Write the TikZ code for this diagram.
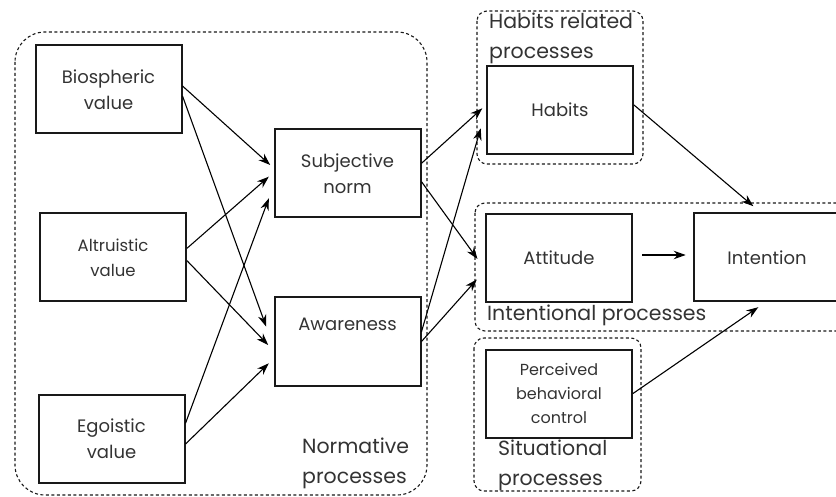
\documentclass[tikz,border=0pt]{standalone}
\usepackage{fontspec}
\setmainfont{Poppins}
\usetikzlibrary{arrows.meta}

\begin{document}
\begin{tikzpicture}[x=1pt,y=-1pt,>={Stealth[length=12pt,width=8.5pt]},
    box/.style={draw=black!90,line width=2pt,minimum width=146pt,minimum height=88pt,
        inner sep=0pt,align=center,text=black!80,font=\fontsize{18}{26}\selectfont},
    group/.style={draw=black!90,line width=1.1pt,dash pattern=on 3pt off 2.5pt,rounded corners=10pt},
    glabel/.style={anchor=west,inner sep=0pt,align=left,text=black!80,font=\fontsize{20.5}{30}\selectfont},
    arr/.style={->,line width=1.1pt}]
    \useasboundingbox (0,0) rectangle (836,497);

    % process groups
    \draw[group,rounded corners=30pt] (15,32) rectangle (427,495);
    \draw[group] (477,11) rectangle (643,164);
    \draw[group] (475,203) rectangle (850,331);
    \draw[group] (474,338) rectangle (641,491);

    \node[glabel] (normlab) at (302,463) {Normative\\processes};
    \node[glabel] (hablab) at (489,38) {Habits related\\processes};
    \node[glabel] (intlab) at (487,315) {Intentional processes};
    \node[glabel] (sitlab) at (498,465) {Situational\\processes};

    % values
    \node[box] (bio) at (108.5,89.5) {Biospheric\\value};
    \node[box,font=\fontsize{16.5}{25}\selectfont] (alt) at (113,257.5) {Altruistic\\value};
    \node[box] (ego) at (111.5,439) {Egoistic\\value};

    % normative
    \node[box] (subj) at (347.5,173.5) {Subjective\\norm};
    \node[box] (aware) at (347.5,341.5) {Awareness\\\strut};

    % habits, attitude, intention
    \node[box] (habits) at (560,110) {Habits};
    \node[box] (att) at (559,258) {Attitude};
    \node[box] (intent) at (767,257.5) {Intention};
    \node[box,font=\fontsize{16}{24}\selectfont] (pbc) at (559,393.5) {Perceived\\behavioral\\control};

    \draw[arr] ([yshift=3.5pt]bio.east) -- ([xshift=-3.3pt,yshift=8.5pt]subj.west);
    \draw[arr] ([yshift=-6.5pt]bio.east) -- ([xshift=-7.3pt,yshift=14.8pt]aware.west);
    \draw[arr] ([yshift=9.2pt]alt.east) -- ([xshift=-4.7pt,yshift=-3.2pt]subj.west);
    \draw[arr] ([yshift=-3.2pt]alt.east) -- ([xshift=-5.3pt,yshift=-3.5pt]aware.west);
    \draw[arr] ([yshift=15.7pt]ego.east) -- ([xshift=-4.7pt,yshift=-24.8pt]subj.west);
    \draw[arr] ([yshift=-5pt]ego.east) -- ([xshift=-4.7pt,yshift=-21.8pt]aware.west);

    \draw[arr] ([yshift=10.2pt]subj.east) -- ([xshift=-3.7pt,yshift=1.7pt]habits.west);
    \draw[arr] ([yshift=9.8pt]aware.east) -- ([xshift=-5.3pt,yshift=-18.3pt]habits.west);
    \draw[arr] ([yshift=-8.2pt]subj.east) -- ([xshift=-7.5pt,yshift=-1pt]att.west);
    \draw[arr] (aware.east) -- ([xshift=-8.2pt,yshift=-21.5pt]att.west);

    \draw[arr] ([yshift=5pt]habits.east) -- ([xshift=-13.7pt,yshift=6.3pt]intent.north);
    \draw[arr] ([xshift=9pt,yshift=3pt]att.east) -- ([xshift=-7.3pt,yshift=2.5pt]intent.west);
    \draw[arr] (pbc.east) -- ([xshift=-8.7pt,yshift=-4.7pt]intent.south);
\end{tikzpicture}
\end{document}
